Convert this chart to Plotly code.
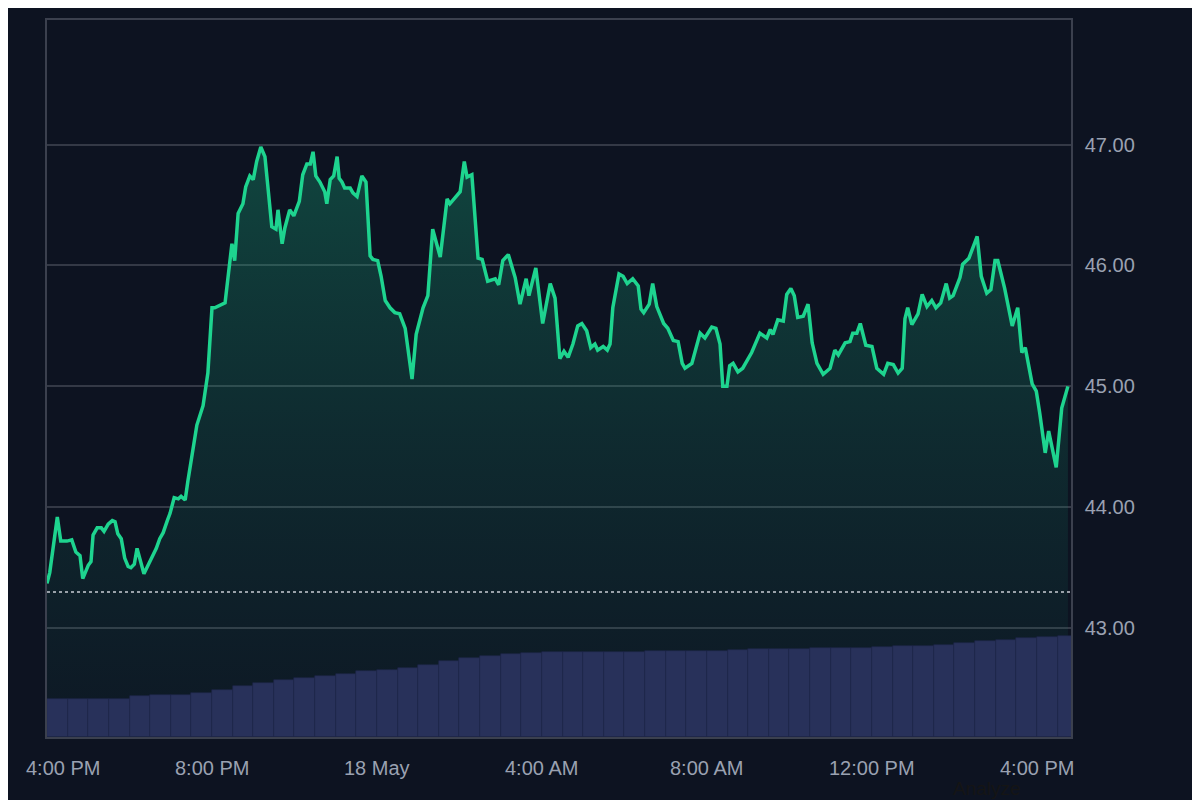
import pandas as pd
import plotly.graph_objects as go

start = pd.Timestamp("2024-05-17 16:00")

# price series: minutes after 17 May 16:00, price
minutes = [0,4,15,20,29,36,42,48,52,60,64,67,73,79,83,89,95,99,103,108,113,118,122,127,131,135,141,147,153,159,
 164,169,175,179,185,191,195,201,205,211,218,227,234,240,244,259,265,269,273,278,285,289,295,300,305,311,317,323,327,333,
 336,342,346,353,359,367,372,378,383,387,391,397,404,407,412,417,422,425,429,433,441,445,451,458,464,470,474,481,486,492,
 499,506,513,521,531,537,547,554,561,572,582,586,601,607,611,618,627,633,641,652,657,663,671,681,688,697,701,711,721,732,
 739,746,752,758,765,772,778,785,791,797,801,809,815,819,823,832,838,844,852,860,864,868,876,881,887,897,903,911,918,924,
 928,938,950,957,967,973,979,983,989,993,998,1005,1012,1025,1037,1047,1052,1056,1063,1071,1076,1082,1087,1092,1100,1107,1113,1120,1129,1139,
 1146,1151,1161,1168,1172,1178,1183,1191,1200,1207,1217,1223,1231,1238,1244,1248,1252,1258,1267,1273,1280,1287,1293,1300,1308,1313,1318,1328,1332,1341,
 1353,1359,1367,1373,1379,1383,1393,1404,1412,1418,1423,1433,1439,1444,1452,1457,1468,1476,1485]
prices = [43.37,43.46,43.92,43.72,43.72,43.73,43.63,43.60,43.41,43.52,43.55,43.77,43.83,43.83,43.80,43.86,43.89,43.88,43.78,43.74,
 43.58,43.51,43.50,43.53,43.66,43.58,43.45,43.52,43.59,43.66,43.74,43.79,43.89,43.95,44.08,44.07,44.09,44.06,44.22,44.43,
 44.68,44.84,45.11,45.65,45.65,45.69,45.97,46.18,46.04,46.43,46.51,46.65,46.74,46.71,46.86,46.98,46.90,46.57,46.32,46.30,
 46.46,46.18,46.31,46.46,46.41,46.53,46.75,46.84,46.84,46.94,46.74,46.69,46.61,46.51,46.71,46.74,46.90,46.72,46.69,46.64,
 46.64,46.60,46.57,46.74,46.69,46.08,46.05,46.04,45.91,45.71,45.65,45.61,45.60,45.48,45.06,45.43,45.65,45.75,46.30,46.07,
 46.55,46.51,46.61,46.86,46.73,46.75,46.06,46.05,45.87,45.89,45.84,46.04,46.09,45.90,45.68,45.89,45.75,45.98,45.52,45.85,
 45.73,45.23,45.29,45.24,45.35,45.50,45.52,45.46,45.32,45.35,45.30,45.33,45.30,45.35,45.65,45.93,45.91,45.85,45.89,45.83,
 45.64,45.61,45.68,45.85,45.66,45.52,45.48,45.38,45.37,45.19,45.15,45.19,45.44,45.40,45.49,45.48,45.35,45.00,45.00,45.17,
 45.19,45.12,45.15,45.28,45.44,45.40,45.47,45.43,45.55,45.54,45.76,45.81,45.75,45.57,45.58,45.68,45.36,45.19,45.10,45.15,
 45.30,45.26,45.36,45.37,45.44,45.44,45.52,45.34,45.33,45.15,45.10,45.19,45.18,45.11,45.15,45.56,45.65,45.51,45.60,45.76,
 45.66,45.71,45.65,45.69,45.85,45.73,45.75,45.90,46.01,46.06,46.24,45.91,45.77,45.80,46.04,46.04,45.81,45.50,45.65,45.28,
 45.32,45.02,44.96,44.78,44.45,44.63,44.33,44.82,45.00]

# volume bars every 30 minutes (relative units)
volume = [38,38,38,38,41,42,42,44,47,51,54,57,59,61,63,66,67,69,72,76,79,81,83,84,85,85,85,85,85,86,
 86,86,86,87,88,88,88,89,89,89,90,91,91,92,94,96,97,99,100,101]

ref_price = 43.30
y_ticks = [43, 44, 45, 46, 47]
x_tick_times = ["2024-05-17 16:00", "2024-05-17 20:00", "2024-05-18 00:00", "2024-05-18 04:00",
                "2024-05-18 08:00", "2024-05-18 12:00", "2024-05-18 16:00"]
x_tick_labels = ["4:00 PM", "8:00 PM", "18 May", "4:00 AM", "8:00 AM", "12:00 PM", "4:00 PM"]

times = [start + pd.Timedelta(minutes=m) for m in minutes]
vol_times = [start + pd.Timedelta(minutes=30 * i + 15) for i in range(len(volume))]

fig = go.Figure()
fig.add_trace(go.Bar(x=vol_times, y=volume, yaxis="y2", width=30 * 60 * 1000,
                     marker=dict(color="#28315a", line=dict(width=0.6, color="#1f274a")), hoverinfo="skip"))
fig.add_trace(go.Scatter(x=times, y=prices, mode="lines", line=dict(color="#1ed48f", width=3.5),
                         fill="tozeroy",
                         fillgradient=dict(type="vertical", start=42.1, stop=47.0,
                                           colorscale=[[0, "rgba(22,120,100,0.05)"], [1, "rgba(25,200,140,0.28)"]])))

fig.add_shape(type="line", xref="paper", x0=0, x1=1, y0=ref_price, y1=ref_price,
              line=dict(color="#c8ccd4", width=1.5, dash="dot"))

for i, (t, lab) in enumerate(zip(x_tick_times, x_tick_labels)):
    fig.add_annotation(x=t, y=-(768 - 737) / 719, xref="x", yref="paper", text=lab, showarrow=False,
                       yanchor="middle", xshift=16 if i == 0 else 0,
                       font=dict(size=20, color="#9aa1b1", family="Liberation Sans, Arial"))
fig.add_annotation(x=(1023 - 47) / 1024, y=-(789 - 737) / 719, xref="paper", yref="paper",
                   text="Analyze", showarrow=False, yanchor="middle",
                   font=dict(size=19, color="#151515", family="Liberation Sans, Arial"))

fig.update_layout(
    width=1200, height=800, margin=dict(l=39, r=137, t=10, b=71),
    paper_bgcolor="#0d1321", plot_bgcolor="#0d1321", showlegend=False, bargap=0,
    font=dict(family="Liberation Sans, Arial", color="#9aa1b1"),
    xaxis=dict(type="date", range=[start, start + pd.Timedelta(minutes=1489.5)],
               showgrid=False, showticklabels=False, zeroline=False,
               showline=True, linecolor="#3b404e", linewidth=1.5, mirror=True),
    yaxis=dict(side="right", range=[42.1, 48.03], tickvals=y_ticks, tickformat=".2f",
               showgrid=True, gridcolor="#343946", gridwidth=1.5, zeroline=False,
               tickfont=dict(size=20, color="#9aa1b1"), ticks="", ticklabelstandoff=8,
               showline=True, linecolor="#3b404e", linewidth=1.5, mirror=True),
    yaxis2=dict(overlaying="y", range=[0, 719], visible=False),
)
fig.write_html("out.html")
